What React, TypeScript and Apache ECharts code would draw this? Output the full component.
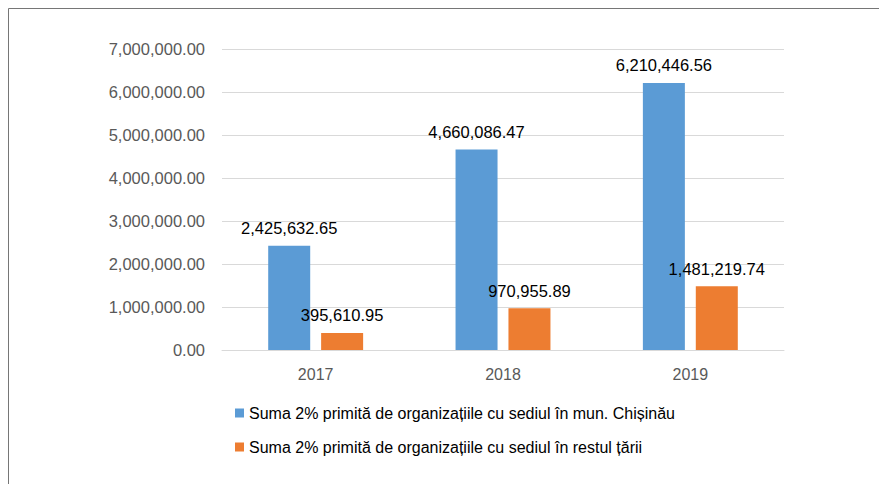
import React, { useEffect, useRef } from "react";
import * as echarts from "echarts";

const years = ["2017", "2018", "2019"];
const chisinau = [2425632.65, 4660086.47, 6210446.56];
const restulTarii = [395610.95, 970955.89, 1481219.74];
const seriesNames = [
  "Suma 2% primită de organizațiile cu sediul în mun. Chișinău",
  "Suma 2% primită de organizațiile cu sediul în restul țării",
];

const FONT = "'Liberation Sans', Arial, sans-serif";
const fmt = (v: number) =>
  v.toLocaleString("en-US", { minimumFractionDigits: 2, maximumFractionDigits: 2 });

export default function App() {
  const ref = useRef<HTMLDivElement>(null);
  useEffect(() => {
    if (!ref.current) return;
    const chart = echarts.init(ref.current, null, { renderer: "svg" });
    chart.setOption({
      animation: false,
      backgroundColor: "#ffffff",
      textStyle: { fontFamily: FONT },
      graphic: [
        {
          type: "rect",
          shape: { x: 8.5, y: 8.5, width: 900, height: 500 },
          style: { fill: "none", stroke: "#767676", lineWidth: 1 },
          silent: true,
        },
      ],
      grid: { left: 222, right: 95, top: 49, bottom: 134, containLabel: false },
      legend: {
        orient: "vertical",
        left: 230,
        top: 400,
        itemWidth: 9,
        itemHeight: 9,
        itemGap: 18,
        icon: "rect",
        textStyle: { fontFamily: FONT, fontSize: 16, color: "#000000" },
        data: seriesNames,
      },
      xAxis: {
        type: "category",
        data: years,
        axisLine: { lineStyle: { color: "#d9d9d9" } },
        axisTick: { show: false },
        axisLabel: { color: "#595959", fontSize: 16, margin: 16, fontFamily: FONT },
      },
      yAxis: {
        type: "value",
        min: 0,
        max: 7000000,
        interval: 1000000,
        axisLine: { show: false },
        axisTick: { show: false },
        splitLine: { lineStyle: { color: "#d9d9d9" } },
        axisLabel: {
          color: "#595959",
          fontSize: 16.5,
          margin: 17,
          fontFamily: FONT,
          formatter: (v: number) => fmt(v),
        },
      },
      series: [
        {
          name: seriesNames[0],
          type: "bar",
          data: chisinau,
          barWidth: 42,
          barGap: "26%",
          itemStyle: { color: "#5B9BD5" },
          label: {
            show: true,
            position: "top",
            distance: 9,
            color: "#000000",
            fontSize: 16.5,
            fontFamily: FONT,
            formatter: (p: any) => fmt(p.value),
          },
        },
        {
          name: seriesNames[1],
          type: "bar",
          data: restulTarii,
          barWidth: 42,
          itemStyle: { color: "#ED7D31" },
          label: {
            show: true,
            position: "top",
            distance: 9,
            color: "#000000",
            fontSize: 16.5,
            fontFamily: FONT,
            formatter: (p: any) => fmt(p.value),
          },
        },
      ],
    });
    return () => chart.dispose();
  }, []);
  return (
    <div
      ref={ref}
      style={{ position: "fixed", left: 0, top: 0, width: 879, height: 484 }}
    />
  );
}
